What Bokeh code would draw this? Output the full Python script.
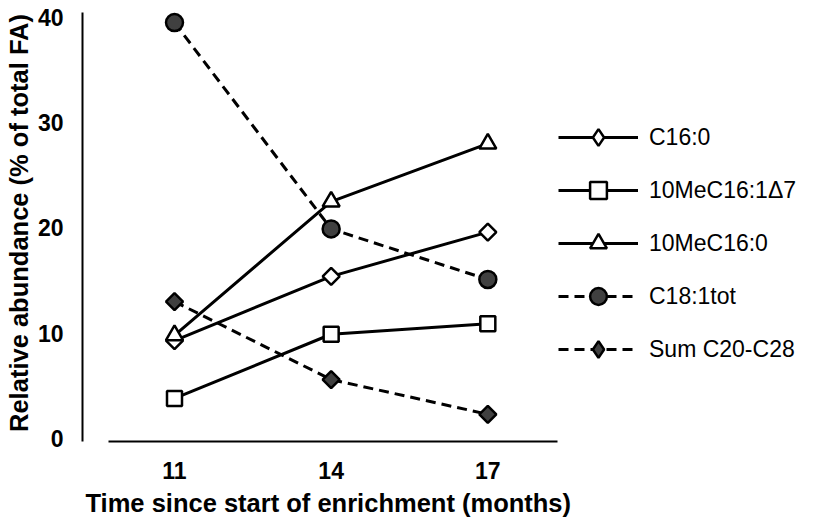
import math
from bokeh.plotting import figure
from bokeh.models import Range1d, FixedTicker, Title, Legend, LegendItem
from bokeh.embed import file_html
from bokeh.resources import INLINE

# ---------------- data ----------------
months = [11, 14, 17]
c16_0 = [9.3, 15.4, 19.6]
me_c16_1d7 = [3.8, 9.9, 10.9]
me_c16_0 = [9.8, 22.5, 28.0]
c18_1tot = [39.5, 19.9, 15.1]
sum_c20_c28 = [13.0, 5.6, 2.3]
y_ticks = [0, 10, 20, 30, 40]
series_names = ["C16:0", "10MeC16:1\u03947", "10MeC16:0", "C18:1tot", "Sum C20-C28"]
y_title = "Relative abundance (% of total FA)"
x_title = "Time since start of enrichment (months)"

# ---------------- layout ----------------
W, H = 816, 524
FL, FR, FT, FB = 82, 8, 4, 83
frame_w = W - FL - FR
frame_h = H - FT - FB
px_per_month = 52.22
px_per_unit = 10.53
x0 = 11 - 92 / px_per_month
y0 = -3 / px_per_unit

FONT = "Liberation Sans"

p = figure(width=W, height=H, output_backend="svg", toolbar_location=None,
           x_range=Range1d(x0, x0 + frame_w / px_per_month),
           y_range=Range1d(y0, y0 + frame_h / px_per_unit),
           min_border_left=FL, min_border_right=FR, min_border_top=FT,
           min_border_bottom=FB)
p.xgrid.visible = False
p.ygrid.visible = False
p.outline_line_color = None
p.background_fill_color = "white"
p.border_fill_color = "white"

for ax in (p.xaxis[0], p.yaxis[0]):
    ax.axis_line_width = 2
    ax.axis_line_color = "black"
    ax.major_tick_line_color = None
    ax.minor_tick_line_color = None
    ax.major_label_text_font = FONT
    ax.major_label_text_font_size = "23px"
    ax.major_label_text_font_style = "bold"
    ax.major_label_text_color = "black"
    ax.axis_label_text_font = FONT
    ax.axis_label_text_font_size = "25.5px"
    ax.axis_label_text_font_style = "bold"
    ax.axis_label_text_color = "black"

p.xaxis.ticker = FixedTicker(ticks=months)
p.xaxis.bounds = (11 - 66 / px_per_month, 17 + 70 / px_per_month)
p.xaxis.major_label_standoff = 14

p.yaxis.ticker = FixedTicker(ticks=y_ticks)
p.yaxis.bounds = (y0, 40.46)
p.yaxis.major_label_standoff = 13
p.yaxis.axis_label = y_title
p.yaxis.axis_label_standoff = 2

p.add_layout(Title(text=x_title, align="left", offset=3, text_font=FONT,
                   text_font_size="25.5px", text_font_style="bold",
                   text_color="black"), "below")

series = [c16_0, me_c16_1d7, me_c16_0, c18_1tot, sum_c20_c28]
# "rdiamond": square turned by 45 degrees in the plot, diamond glyph in the legend
styles = [
    dict(dash="solid", marker="rdiamond", size=12, fill="white"),
    dict(dash="solid", marker="square", size=15, fill="white"),
    dict(dash="solid", marker="triangle", size=17, fill="white"),
    dict(dash="10 6", marker="circle", size=17, fill="#404040"),
    dict(dash="10 6", marker="rdiamond", size=12, fill="#404040"),
]

items = []
for name, vals, st in zip(series_names, series, styles):
    ln = p.line(months, vals, line_width=3, line_color="black", line_dash=st["dash"])
    if st["marker"] == "rdiamond":
        # tiny key glyph, hidden beneath the real markers; the legend draws it at full size
        key = p.scatter(months, vals, marker="diamond", size=1,
                        fill_color=st["fill"], line_color="black", line_width=2.5)
        p.scatter(months, vals, marker="square", size=st["size"], angle=math.pi / 4,
                  fill_color=st["fill"], line_color="black", line_width=2.5)
        items.append(LegendItem(label=name, renderers=[ln, key]))
    else:
        sc = p.scatter(months, vals, marker=st["marker"], size=st["size"],
                       fill_color=st["fill"], line_color="black", line_width=2.5)
        items.append(LegendItem(label=name, renderers=[ln, sc]))

lg = Legend(items=items, location=(476, 71))
lg.glyph_width = 80
lg.glyph_height = 42
lg.label_height = 42
lg.spacing = 11
lg.padding = 0
lg.margin = 0
lg.label_standoff = 11
lg.border_line_color = None
lg.background_fill_alpha = 0
lg.label_text_font = FONT
lg.label_text_font_size = "23px"
lg.label_text_color = "black"
lg.label_text_baseline = "middle"
p.add_layout(lg)

open("out.html", "w").write(file_html(p, INLINE))
